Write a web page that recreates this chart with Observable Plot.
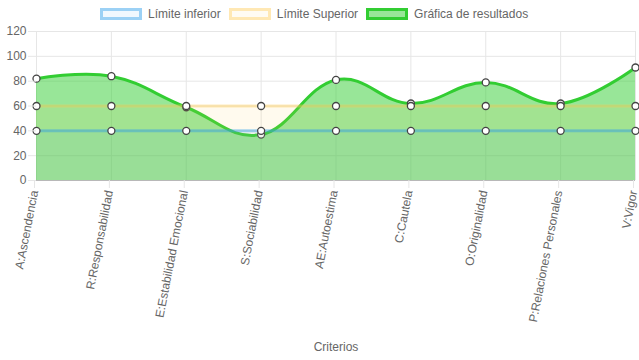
<!DOCTYPE html>
<html>
<head>
<meta charset="utf-8">
<script src="https://cdn.jsdelivr.net/npm/d3@7"></script>
<script src="https://cdn.jsdelivr.net/npm/@observablehq/plot@0.6"></script>
<style>
  html, body { margin: 0; padding: 0; background: #fff; }
  body { width: 639px; height: 360px; overflow: hidden; font-family: "Liberation Sans", Arial, Helvetica, sans-serif; }
  #legend { height: 24px; display: flex; justify-content: flex-start; align-items: flex-start; gap: 8px; font-size: 12px; color: #666; padding-left: 100px; padding-top: 8px; box-sizing: border-box; white-space: nowrap; }
  .item { display: flex; align-items: center; gap: 6px; height: 12px; line-height: 12px; }
  .box { width: 36px; height: 6px; border-width: 3px; border-style: solid; flex: none; }
  svg { display: block; }
</style>
</head>
<body>
<div id="legend"></div>
<div id="chart"></div>
<script>
const categories = ["A:Ascendencia","R:Responsabilidad","E:Estabilidad Emocional","S:Sociabilidad","AE:Autoestima","C:Cautela","O:Originalidad","P:Relaciones Personales","V:Vigor"];
const limiteInferior = [40, 40, 40, 40, 40, 40, 40, 40, 40];
const limiteSuperior = [60, 60, 60, 60, 60, 60, 60, 60, 60];
const resultados = [82, 84, 59, 37, 81, 62, 79, 62, 91];
const yTicks = [0, 20, 40, 60, 80, 100, 120];

const series = [
  {name: "Límite inferior", values: limiteInferior, line: "rgba(54,162,235,0.45)", fill: "rgba(54,162,235,0.08)", legendFill: "rgba(54,162,235,0.07)"},
  {name: "Límite Superior", values: limiteSuperior, line: "rgba(255,205,86,0.4)", fill: "rgba(255,205,86,0.1)", legendFill: "rgba(255,205,86,0.07)"},
  {name: "Gráfica de resultados", values: resultados, line: "rgb(50,205,50)", fill: "rgba(50,205,50,0.5)", legendFill: "rgba(50,205,50,0.5)"}
];

const legend = document.getElementById("legend");
for (const s of series) {
  const it = document.createElement("div");
  it.className = "item";
  const b = document.createElement("div");
  b.className = "box";
  b.style.borderColor = s.line;
  b.style.background = s.legendFill;
  const t = document.createElement("span");
  t.textContent = s.name;
  it.appendChild(b); it.appendChild(t);
  legend.appendChild(it);
}

const rows = s => categories.map((c, i) => ({cat: c, v: s.values[i]}));
const curveOpts = {curve: "cardinal", tension: -0.2};

// Chart.js draws datasets in reverse order: last dataset first
const layers = [];
for (const s of [...series].reverse()) {
  const d = rows(s);
  layers.push(Plot.areaY(d, {x: "cat", y: "v", fill: s.fill, ...curveOpts}));
  layers.push(Plot.lineY(d, {x: "cat", y: "v", stroke: s.line, strokeWidth: 3, ...curveOpts}));
  layers.push(Plot.dot(d, {x: "cat", y: "v", r: 3.5, fill: "#fff", stroke: "#444", strokeWidth: 1.3}));
}

const chart = Plot.plot({
  width: 639,
  height: 336,
  marginTop: 7,
  marginBottom: 180,
  marginLeft: 36,
  marginRight: 4,
  style: {fontFamily: "'Liberation Sans', Arial, Helvetica, sans-serif", fontSize: "12px", color: "#666", background: "#fff", overflow: "visible"},
  x: {type: "point", domain: categories, padding: 0, round: false, label: null},
  y: {domain: [0, 120], label: null},
  marks: [
    Plot.gridY(yTicks, {stroke: "#e6e6e6", strokeOpacity: 1}),
    Plot.gridX(categories, {stroke: "#e6e6e6", strokeOpacity: 1}),
    ...layers,
    Plot.ruleY([0], {stroke: "#b8b8b8"}),
    Plot.axisY(yTicks, {tickSize: 8, tickPadding: 2, stroke: "#e6e6e6", fill: "#666", fontSize: 12, label: null}),
    Plot.axisX(categories, {tickSize: 8, tickPadding: 2, tickRotate: -79, dx: -2, stroke: "#e6e6e6", fill: "#666", fontSize: 12, label: null}),
    Plot.text(["Criterios"], {frameAnchor: "bottom", lineAnchor: "middle", dy: 167, fill: "#666", fontSize: 12})
  ]
});
document.getElementById("chart").appendChild(chart);
</script>
</body>
</html>
